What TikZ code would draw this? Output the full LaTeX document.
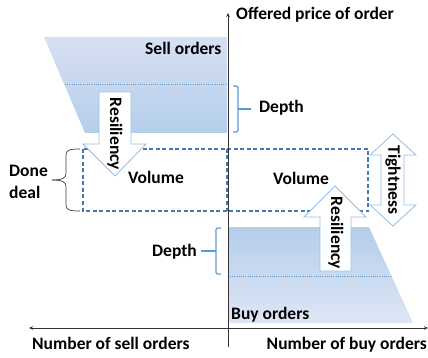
\documentclass[tikz,border=0pt]{standalone}
\usepackage{fontspec}
\setmainfont{Carlito}
\usetikzlibrary{arrows.meta}
\definecolor{selltop}{RGB}{216,224,243}
\definecolor{sellbot}{RGB}{180,206,235}
\definecolor{buytop}{RGB}{180,206,235}
\definecolor{buybot}{RGB}{222,230,245}
\definecolor{arrowblue}{RGB}{150,190,228}
\definecolor{dashblue}{RGB}{70,120,175}
\definecolor{brk}{RGB}{91,155,213}
\begin{document}
\begin{tikzpicture}[x=1pt,y=-1pt,
  every node/.style={inner sep=0pt,font=\fontsize{17.5}{21}\selectfont\bfseries},
  lbl/.style={anchor=base west},
  bigarrow/.style={draw=arrowblue,fill=white,line width=0.8pt,line join=miter},
  dashbox/.style={draw=dashblue,line width=1.2pt,dash pattern=on 4pt off 2.5pt},
  bracket/.style={draw=brk,line width=1.2pt,rounded corners=1.5pt},
  dots/.style={draw=brk,line width=1pt,dash pattern=on 1pt off 1.2pt},
  axisline/.style={draw=black!80,line width=0.8pt},
  brace/.style={draw=black!75,line width=0.7pt}]
\useasboundingbox (0,0) rectangle (428,358);

% order book fills
\shade[top color=selltop,bottom color=sellbot] (44,37) -- (227,37) -- (227,133) -- (85,133) -- cycle;
\shade[top color=buytop,bottom color=buybot] (229,227) -- (369,227) -- (413,323) -- (229,323) -- cycle;
\draw[dots] (65,85) -- (226,85);
\draw[dots] (230,276) -- (392,276);

% dashed done-deal boxes
\draw[dashbox] (83,149) rectangle (368,211);
\draw[dashbox] (227,149) -- (227,211);

% resiliency arrows
\draw[bigarrow] (99,92) -- (131,92) -- (131,144) -- (146,144) -- (115,176) -- (83,144) -- (99,144) -- cycle;
\draw[bigarrow] (320,271) -- (351,271) -- (351,217) -- (366,217) -- (335,186) -- (304,217) -- (320,217) -- cycle;
% tightness arrow
\draw[bigarrow] (393,134) -- (416,155) -- (404,155) -- (404,205) -- (416,205) -- (393,226) -- (370,205) -- (381,205) -- (381,155) -- (370,155) -- cycle;

% axes
\coordinate (ytop) at (228,13);
\coordinate (ybot) at (228,347);
\coordinate (xl) at (29,328);
\coordinate (xr) at (428,328);
\draw[axisline,-{Stealth[length=4pt,width=3.5pt]}] (ybot) -- (ytop);
\draw[axisline,{Stealth[length=4pt,width=3.5pt]}-{Stealth[length=4pt,width=3.5pt]}] (xl) -- (xr);

% depth brackets
\draw[bracket] (233,86) -- (238,86) -- (238,132) -- (233,132);
\draw[bracket] (238,109) -- (251,109);
\draw[bracket] (221,228) -- (216,228) -- (216,274) -- (221,274);
\draw[bracket] (216,251) -- (201,251);

% done deal brace
\draw[brace] (80,149) .. controls (70,149) and (66,150) .. (66,155) -- (66,174) .. controls (66,178) and (62,180) .. (52,180);
\draw[brace] (80,211) .. controls (70,211) and (66,210) .. (66,205) -- (66,186) .. controls (66,182) and (62,180) .. (52,180);

% labels
\node[lbl] (price) at (236,20) {Offered price of order};
\node[lbl] (sell) at (145,54.5) {Sell orders};
\node[lbl] (depth1) at (259,113) {Depth};
\node[lbl] (vol1) at (128,184) {Volume};
\node[lbl] (vol2) at (273,185) {Volume};
\node[lbl] (done) at (9,177) {Done};
\node[lbl] (deal) at (9,198) {deal};
\node[lbl] (depth2) at (152,256) {Depth};
\node[lbl] (buy) at (231,319) {Buy orders};
\node[lbl] (nsell) at (32,349) {Number of sell orders};
\node[anchor=base east] (nbuy) at (427,349) {Number of buy orders};
\node[rotate=-90] (res1) at (115,134) {Resiliency};
\node[rotate=-90] (res2) at (336,233) {Resiliency};
\node[rotate=-90] (tight) at (393,180) {Tightness};
\end{tikzpicture}
\end{document}
